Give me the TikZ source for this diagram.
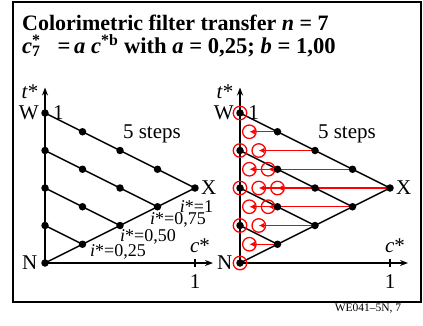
\documentclass[tikz,border=0pt]{standalone}
\usepackage{fontspec}
\setmainfont{Liberation Serif}
\usetikzlibrary{arrows.meta}
\newcommand\myfs[1]{\fontsize{#1}{#1}\selectfont}
\newcommand\mytri[1]{%
  \foreach \m in {1,...,4}{\foreach \k in {0,...,\m}{\coordinate (#1\k-\m) at ({\k/4},{(2*\m-\k)/8});}}
  \coordinate (#1N) at (0,0);
  \coordinate (#1ty) at (0,1.17);
  \coordinate (#1cx) at (1.12,0);
  \coordinate (#1k1) at (1,0.028);
  \coordinate (#1k2) at (1,-0.028);
  \draw[gridline] (#1N) -- (#14-4);
  \foreach \m in {1,...,4}{\draw[gridline] (#10-\m) -- (#1\m-\m);}
  \draw[axis] (#1N) -- (#1ty);
  \draw[axis] (#1N) -- (#1cx);
  \draw[gridline] (#1k1) -- (#1k2);
  \node[lbl] (#1lt) at (-0.1,1.14) {\textit{t}*};
  \node[lbl, anchor=east] (#1lW) at (-0.04,1) {W};
  \node[lbl] (#1l1) at (0.09,1) {1};
  \node[lbl, anchor=east] (#1lN) at (-0.05,0) {N};
  \node[lbl, anchor=west] (#1lX) at (1.04,0.5) {X};
  \node[lbl] (#1ls) at (0.713,0.86) {5 steps};
  \node[lbl] (#1lc) at (1.033,0.115) {\textit{c}*};
  \node[lbl] (#1lo) at (1,-0.127) {1};
}
\newcommand\mydots[1]{%
  \foreach \m in {1,...,4}{\foreach \k in {0,...,\m}{\node[dotnode] (#1d\k-\m) at (#1\k-\m) {};}}
  \node[dotnode] (#1dN) at (#1N) {};
}
\begin{document}
\begin{tikzpicture}[x=1pt,y=-1pt,
  lbl/.style={inner sep=0pt, font=\myfs{21}},
  ilbl/.style={inner sep=0pt, font=\myfs{18}},
  dotnode/.style={circle, fill=black, inner sep=0pt, minimum size=7.5pt},
  ring/.style={circle, draw=red, line width=1.3pt, inner sep=0pt, minimum size=13.5pt},
  gridline/.style={line width=1.5pt},
  axis/.style={line width=1.5pt, -{Stealth[length=8pt,width=6pt]}},
  redarrow/.style={red, line width=1.4pt, -{Latex[length=5.5pt,width=5.5pt]}},
]
\useasboundingbox (0,0) rectangle (423,325);
\draw[line width=1.4pt] (13,2) rectangle (421,302);
\node[anchor=base west, inner sep=0pt, font=\myfs{22}\bfseries] (title) at (22,30)
  {Colorimetric filter transfer \textit{n} = 7};
\node[anchor=base west, inner sep=0pt, font=\myfs{22.6}\bfseries] (formula) at (22,53)
  {\textit{c}\rlap{\textsuperscript{*}}\textsubscript{7}\ \ \ =\,\textit{a} \textit{c}\textsuperscript{*b} with \textit{a} = 0,25; \textit{b} = 1,00};
\node[inner sep=0pt, font=\myfs{11.5}] (foot) at (368,309) {WE041–5N, 7};

\begin{scope}[shift={(45,263)}, x=150pt, y=150pt]
  \mytri{L}
  \mydots{L}
  \node[ilbl] (i1) at (1.01,0.377) {\textit{i}*=1};
  \node[ilbl] (i2) at (0.887,0.29) {\textit{i}*=0,75};
  \node[ilbl] (i3) at (0.687,0.177) {\textit{i}*=0,50};
  \node[ilbl] (i4) at (0.487,0.077) {\textit{i}*=0,25};
\end{scope}

\begin{scope}[shift={(240,263)}, x=150pt, y=150pt]
  \mytri{R}
  \foreach \m in {1,...,4}{
    \node[ring] (Rr0-\m) at (R0-\m) {};
    \foreach \k in {1,...,\m}{
      \node[ring] (Rr\k-\m) at ({\k/16},{(2*\m-\k)/8}) {};
      \draw[redarrow] (R\k-\m) -- (Rr\k-\m.center);
    }
  }
  \node[ring] (RrN) at (RN) {};
  \mydots{R}
\end{scope}
\end{tikzpicture}
\end{document}
